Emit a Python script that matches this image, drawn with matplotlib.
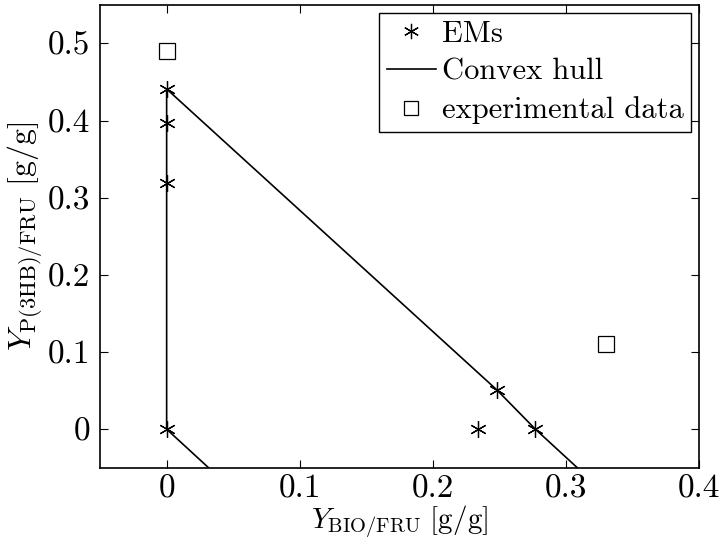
import matplotlib
matplotlib.use("Agg")
import matplotlib.pyplot as plt
from matplotlib.lines import Line2D

plt.rcParams['mathtext.fontset'] = 'cm'
plt.rcParams['font.family'] = ['cmr10', 'DejaVu Serif']
plt.rcParams['axes.formatter.use_mathtext'] = True

# Elementary modes
em_x = [0.0, 0.0, 0.0, 0.0, 0.234, 0.248, 0.277]
em_y = [0.441, 0.397, 0.319, 0.0, 0.0, 0.051, 0.0]

# Convex hull boundary (continues beyond the visible region)
hull_x = [0.0315, 0.0, 0.0, 0.248, 0.277, 0.3085]
hull_y = [-0.05, 0.0, 0.441, 0.051, 0.0, -0.05]

# Experimental data
exp_x = [0.0, 0.33]
exp_y = [0.49, 0.11]

xticks = [0, 0.1, 0.2, 0.3, 0.4]
xticklabels = ['0', '0.1', '0.2', '0.3', '0.4']
yticks = [0, 0.1, 0.2, 0.3, 0.4, 0.5]
yticklabels = ['0', '0.1', '0.2', '0.3', '0.4', '0.5']

fig = plt.figure(figsize=(7.2, 5.42), dpi=100)
ax = fig.add_axes([0.139, 0.137, 0.832, 0.854])

ast = (6, 2, 0)
ax.plot(hull_x, hull_y, color='black', lw=1.2, clip_on=True)
ax.plot(em_x, em_y, linestyle='none', marker=ast, markersize=12,
        markeredgecolor='black', markeredgewidth=0.9, color='black')
ax.plot(exp_x, exp_y, linestyle='none', marker='s', markersize=11,
        markerfacecolor='white', markeredgecolor='black', markeredgewidth=0.9)

ax.set_xlim(-0.05, 0.4)
ax.set_ylim(-0.05, 0.55)
ax.set_xticks(xticks)
ax.set_xticklabels(xticklabels)
ax.set_yticks(yticks)
ax.set_yticklabels(yticklabels)
ax.tick_params(direction='in', top=True, right=True, labelsize=24,
               length=6, width=0.8, pad=7)
ax.tick_params(axis='x', pad=5)
for s in ax.spines.values():
    s.set_linewidth(1.2)

ax.set_xlabel(r'$Y_{\mathrm{BIO/FRU}}\ [\mathrm{g/g}]$', fontsize=21, labelpad=0)
ax.set_ylabel(r'$Y_{\mathrm{P(3HB)/FRU}}\ [\mathrm{g/g}]$', fontsize=23, labelpad=2)

handles = [
    Line2D([], [], linestyle='none', marker=ast, markersize=11,
           markeredgecolor='black', markeredgewidth=0.9, color='black'),
    Line2D([], [], color='black', lw=1.2),
    Line2D([], [], linestyle='none', marker='s', markersize=10,
           markerfacecolor='white', markeredgecolor='black', markeredgewidth=0.9),
]
leg = ax.legend(handles, ['EMs', 'Convex hull', 'experimental data'],
                loc='upper right', fontsize=22, frameon=True, fancybox=False,
                edgecolor='black', framealpha=1, borderaxespad=0.25,
                handlelength=1.6, handletextpad=0.2, borderpad=0.25,
                labelspacing=0.35)
leg.get_frame().set_linewidth(1.0)

fig.savefig('out.png', dpi=100)
